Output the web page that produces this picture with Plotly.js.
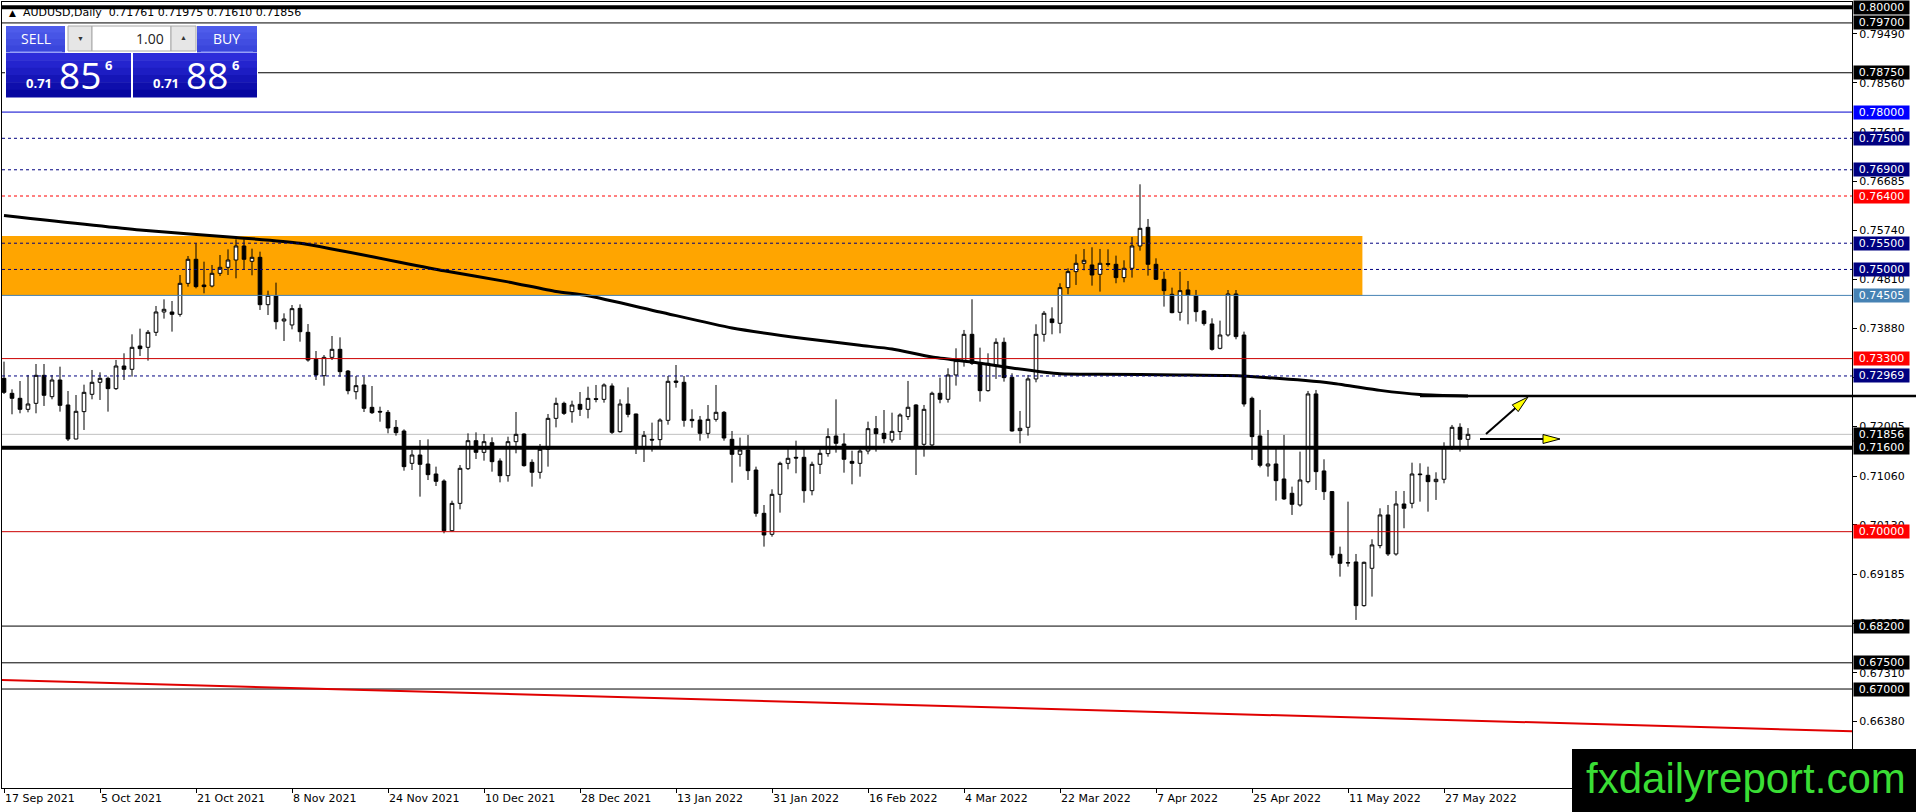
<!DOCTYPE html>
<html><head><meta charset="utf-8">
<script src="https://cdn.plot.ly/plotly-3.0.1.min.js"></script>
<style>html,body{margin:0;padding:0;background:#fff;overflow:hidden}#chart{width:1916px;height:812px}</style>
</head><body><div id="chart"></div>
<script>
// ---------- data ----------
const tickLabels = ['17 Sep 2021','5 Oct 2021','21 Oct 2021','8 Nov 2021','24 Nov 2021','10 Dec 2021','28 Dec 2021','13 Jan 2022','31 Jan 2022','16 Feb 2022','4 Mar 2022','22 Mar 2022','7 Apr 2022','25 Apr 2022','11 May 2022','27 May 2022'];
const tickBars = [0,12,24,36,48,60,72,84,96,108,120,132,144,156,168,180];

const barOpen = [
0.72924,0.72638,0.72543,0.72333,0.72447,0.72981,0.72574,0.72892,0.72416,0.71767,
0.72289,0.72619,0.72848,0.72924,0.72727,0.73159,0.73096,0.73540,0.73515,0.73801,
0.74189,0.74189,0.74144,0.74735,0.75193,0.74703,0.74684,0.74926,0.75040,0.75180,
0.75447,0.75155,0.75231,0.74328,0.74494,0.74017,0.73941,0.74258,0.73801,0.73286,
0.72974,0.73324,0.73477,0.73063,0.72669,0.72797,0.72371,0.72294,0.72275,0.71989,
0.71919,0.71303,0.71462,0.71290,0.71100,0.70966,0.70019,0.70540,0.71201,0.71735,
0.71513,0.71697,0.71348,0.71068,0.71716,0.71862,0.71322,0.71132,0.71570,0.72161,
0.72447,0.72288,0.72428,0.72333,0.72536,0.72523,0.72778,0.71907,0.72434,0.72244,
0.71621,0.71761,0.71755,0.72123,0.72873,0.72848,0.72142,0.72129,0.71875,0.72142,
0.72276,0.71761,0.71475,0.71557,0.71176,0.70350,0.69950,0.70712,0.71303,0.71418,
0.71418,0.70782,0.71284,0.71488,0.71824,0.71672,0.71341,0.71303,0.71538,0.71964,
0.71875,0.71748,0.71908,0.72194,0.72416,0.71666,0.71653,0.72639,0.72524,0.72988,
0.73261,0.73763,0.73210,0.72689,0.73160,0.73611,0.72944,0.71927,0.71990,0.72912,
0.73763,0.74056,0.73973,0.74653,0.74958,0.75117,0.75085,0.74907,0.75111,0.75098,
0.74844,0.75022,0.75447,0.75803,0.75098,0.74812,0.74526,0.74183,0.74609,0.74500,
0.74208,0.73960,0.73496,0.73750,0.74532,0.73750,0.72543,0.71825,0.71253,0.71291,
0.71005,0.70732,0.70509,0.70954,0.72626,0.71158,0.70764,0.69569,0.69410,0.69423,
0.68590,0.69302,0.69734,0.70319,0.69575,0.70528,0.70541,0.71100,0.71075,0.70954,
0.70999,0.71602,0.71990,0.71761];
const barHigh = [
0.73242,0.72714,0.72873,0.72988,0.73197,0.73197,0.72988,0.73146,0.72682,0.72606,
0.72803,0.73083,0.73038,0.72956,0.73274,0.73401,0.73763,0.73871,0.73845,0.74303,
0.74430,0.74398,0.74894,0.75256,0.75498,0.75148,0.75085,0.75275,0.75383,0.75574,
0.75574,0.75396,0.75339,0.74595,0.74748,0.74163,0.74322,0.74334,0.73959,0.73445,
0.73368,0.73731,0.73705,0.73082,0.72968,0.72955,0.72777,0.72383,0.72320,0.72129,
0.71951,0.71557,0.71748,0.71761,0.71240,0.70998,0.70591,0.71271,0.71875,0.71894,
0.71862,0.71799,0.71398,0.71811,0.72282,0.71875,0.71379,0.71672,0.72244,0.72555,
0.72479,0.72498,0.72663,0.72765,0.72797,0.72828,0.72828,0.72523,0.72752,0.72250,
0.71920,0.72079,0.72161,0.72968,0.73178,0.72968,0.72333,0.72206,0.72415,0.72797,
0.72301,0.71920,0.71793,0.71843,0.71240,0.70509,0.70808,0.71335,0.71583,0.71735,
0.71577,0.71335,0.71577,0.71971,0.72523,0.71875,0.71545,0.71634,0.72098,0.72206,
0.72320,0.72269,0.72257,0.72874,0.72430,0.72416,0.72670,0.72937,0.73115,0.73496,
0.73846,0.74431,0.73509,0.73401,0.73687,0.73700,0.73020,0.72302,0.72988,0.73954,
0.74208,0.74278,0.74736,0.75022,0.75289,0.75390,0.75422,0.75390,0.75384,0.75263,
0.75174,0.75619,0.76623,0.75962,0.75212,0.74958,0.74653,0.74958,0.74780,0.74609,
0.74227,0.74068,0.74024,0.74608,0.74608,0.73814,0.72575,0.72321,0.71939,0.71590,
0.71844,0.70859,0.71526,0.72683,0.72702,0.71380,0.70776,0.69715,0.70573,0.69575,
0.69429,0.69855,0.70446,0.70509,0.70776,0.70776,0.71316,0.71304,0.71240,0.71132,
0.71704,0.72035,0.72066,0.71975];
const barLow = [
0.72625,0.72238,0.72257,0.72276,0.72257,0.72397,0.72524,0.72289,0.71729,0.71761,
0.71939,0.72524,0.72511,0.72289,0.72702,0.72892,0.72956,0.73350,0.73261,0.73731,
0.74062,0.73814,0.74100,0.74672,0.74640,0.74545,0.74659,0.74875,0.74894,0.74831,
0.75002,0.74888,0.74227,0.74131,0.73858,0.73636,0.73858,0.73623,0.73241,0.72892,
0.72784,0.73273,0.72955,0.72619,0.72523,0.72282,0.72244,0.72097,0.71875,0.71831,
0.71163,0.71176,0.70668,0.70985,0.70871,0.69969,0.70005,0.70426,0.71176,0.71386,
0.71354,0.71144,0.70941,0.70954,0.71494,0.71240,0.70858,0.71011,0.71240,0.71989,
0.72225,0.72078,0.72206,0.72161,0.72466,0.72460,0.71863,0.71888,0.72180,0.71481,
0.71329,0.71526,0.71621,0.72040,0.72746,0.72002,0.71983,0.71735,0.71780,0.72098,
0.71735,0.70935,0.71240,0.70986,0.70286,0.69715,0.69905,0.70363,0.71189,0.71113,
0.70553,0.70693,0.71100,0.71430,0.71507,0.71125,0.70903,0.71049,0.71475,0.71526,
0.71685,0.71697,0.71749,0.72130,0.71081,0.71431,0.71620,0.72448,0.72461,0.72785,
0.73147,0.73179,0.72480,0.72670,0.72912,0.72861,0.71908,0.71685,0.71831,0.72848,
0.73623,0.73763,0.73782,0.74526,0.74704,0.74983,0.74691,0.74577,0.75053,0.74736,
0.74755,0.74844,0.75358,0.74882,0.74799,0.74291,0.74164,0.74024,0.73954,0.74005,
0.73929,0.73452,0.73477,0.73719,0.73668,0.72384,0.71367,0.71227,0.71050,0.70592,
0.70605,0.70319,0.70478,0.70922,0.70795,0.70605,0.69493,0.69143,0.69334,0.68317,
0.68571,0.68762,0.69683,0.69537,0.69543,0.70065,0.70446,0.70573,0.70382,0.70605,
0.70922,0.71558,0.71526,0.71610];
const barClose = [
0.72657,0.72543,0.72333,0.72435,0.72981,0.72600,0.72892,0.72409,0.71767,0.72295,
0.72657,0.72848,0.72924,0.72727,0.73159,0.73096,0.73515,0.73490,0.73801,0.74189,
0.74240,0.74144,0.74735,0.75193,0.74672,0.74672,0.74926,0.75040,0.75180,0.75447,
0.75193,0.75231,0.74328,0.74506,0.74004,0.74055,0.74252,0.73813,0.73273,0.72987,
0.73324,0.73477,0.73051,0.72688,0.72784,0.72352,0.72269,0.72282,0.71977,0.71888,
0.71240,0.71462,0.71284,0.71087,0.70960,0.70019,0.70540,0.71208,0.71735,0.71513,
0.71716,0.71335,0.71068,0.71716,0.71856,0.71259,0.71132,0.71570,0.72161,0.72447,
0.72256,0.72415,0.72333,0.72542,0.72523,0.72797,0.71894,0.72434,0.72237,0.71621,
0.71837,0.71748,0.72129,0.72867,0.72848,0.72123,0.72117,0.71875,0.72142,0.72276,
0.71786,0.71475,0.71557,0.71163,0.70350,0.69937,0.70712,0.71303,0.71399,0.71405,
0.70782,0.71284,0.71494,0.71812,0.71685,0.71380,0.71303,0.71538,0.71964,0.71869,
0.71774,0.71913,0.72225,0.72372,0.71622,0.72333,0.72639,0.72524,0.72988,0.73261,
0.73763,0.73210,0.72689,0.73210,0.73611,0.72937,0.71920,0.71971,0.72912,0.73763,
0.74164,0.73986,0.74653,0.74958,0.75117,0.75174,0.74894,0.75117,0.75098,0.74844,
0.75022,0.75447,0.75784,0.75098,0.74812,0.74596,0.74176,0.74596,0.74513,0.74195,
0.73967,0.73477,0.73750,0.74532,0.73719,0.72435,0.71812,0.71266,0.71291,0.70973,
0.70624,0.70522,0.70986,0.72626,0.71145,0.70764,0.69556,0.69397,0.69405,0.68590,
0.69416,0.69747,0.70319,0.69575,0.70528,0.70446,0.71100,0.71088,0.70954,0.70999,
0.71602,0.71990,0.71761,0.71856];

// 200-day moving average, read at selected bars
const maBars = [0,17,29,37,55,63,69,73,82,91,100,107,111,116,121,126,132,137,147,153,158,166,172,177,183];
const maValues = [0.76029,0.75752,0.75609,0.75499,0.74974,0.74763,0.74580,0.74498,0.74189,0.73884,0.73684,0.73554,0.73483,0.73331,0.73235,0.73121,0.73010,0.73001,0.72988,0.72976,0.72936,0.72831,0.72694,0.72616,0.72587];

// horizontal levels and their label kinds
const levelValues = [0.80000,0.79700,0.78750,0.78000,0.77500,0.76900,0.76400,0.75500,0.75000,0.74505,0.73300,0.72969,0.71856,0.71600,0.70000,0.68200,0.67500,0.67000];
const levelKinds  = ['thick','black','black','blue','navyDash','navyDash','redDash','navyDash','navyDash','steel','red','navyDash','bid','thick','red','black','black','black'];

const yTickValues = [0.79490,0.78560,0.77615,0.76685,0.75740,0.74810,0.73880,0.72940,0.72005,0.71060,0.70130,0.69185,0.68255,0.67310,0.66380];

const zoneLow = 0.74505, zoneHigh = 0.75638, zoneEndBar = 169.8;
const resistanceValue = 0.72587, resistanceStartBar = 177;
const trendStart = [-0.25, 0.67173], trendEnd = [231, 0.66196];
// arrows: [tailBar, tailValue, tipBar, tipValue]
const arrowList = [[184.5,0.71767,194.5,0.71767],[185.25,0.71863,190.5,0.72568]];
const headerText = 'AUDUSD,Daily  0.71761 0.71975 0.71610 0.71856';

// ---------- geometry helpers ----------
const W=1916,H=812,L=2,T=2,PW=1850,PH=786;
const X0=-0.25,X1=231,Y0=0.65113,Y1=0.80099;
const pxX = px => (px-L)/PW;
const pxY = py => 1-(py-T)/PH;
const barToPx = b => L+(b-X0)/(X1-X0)*PW;
const valToPy = v => T+(Y1-v)/(Y1-Y0)*PH;
const pxToBar = px => X0+(px-L)/PW*(X1-X0);
const pyToVal = py => Y1-(py-T)/PH*(Y1-Y0);

const styles = {
  thick:{c:'#000000',w:4,dash:'solid',bg:'#000000'},
  black:{c:'#000000',w:1,dash:'solid',bg:'#000000'},
  blue:{c:'#0000CD',w:1,dash:'solid',bg:'#0000FF'},
  navyDash:{c:'#000080',w:1,dash:'3px,3px',bg:'#000080'},
  redDash:{c:'#FF0000',w:1,dash:'3px,3px',bg:'#FF0000'},
  steel:{c:'#4682B4',w:1,dash:'solid',bg:'#4682B4'},
  red:{c:'#CC0000',w:1,dash:'solid',bg:'#FF0000'},
  bid:{c:'#C0C0C0',w:1,dash:'solid',bg:'#000000'}
};

const shapes = [];
const annotations = [];

// orange zone
shapes.push({type:'rect',xref:'x',yref:'y',x0:X0,x1:zoneEndBar,y0:zoneLow,y1:zoneHigh,fillcolor:'#FFA500',line:{width:0},layer:'below'});

// horizontal levels
levelValues.forEach((v,i)=>{
  const s = styles[levelKinds[i]];
  shapes.push({type:'line',xref:'paper',yref:'y',x0:0,x1:1,y0:v,y1:v,
    line:{color:s.c,width:s.w,dash:s.dash},layer:levelKinds[i]==='bid'?'below':'above'});
  annotations.push({xref:'paper',yref:'y',x:pxX(1853),y:v,xanchor:'left',yanchor:'middle',
    text:v.toFixed(5),showarrow:false,bgcolor:s.bg,width:53,height:11,borderpad:1,align:'center',
    font:{family:'DejaVu Sans',size:11,color:'#ffffff'}});
});

// resistance horizontal line (extends past the price scale)
shapes.push({type:'line',xref:'paper',yref:'y',x0:pxX(barToPx(resistanceStartBar)),x1:pxX(W),y0:resistanceValue,y1:resistanceValue,
  line:{color:'#000000',width:2.5},layer:'above'});

// red trend line
shapes.push({type:'line',xref:'x',yref:'y',x0:trendStart[0],y0:trendStart[1],x1:trendEnd[0],y1:trendEnd[1],
  line:{color:'#E00000',width:2},layer:'above'});

// arrows
arrowList.forEach(a=>{
  const tx=barToPx(a[0]),ty=valToPy(a[1]),hx=barToPx(a[2]),hy=valToPy(a[3]);
  const dx=hx-tx,dy=hy-ty,len=Math.hypot(dx,dy),ux=dx/len,uy=dy/len,nx=-uy,ny=ux;
  const hl=17,hw=4.5;
  const bx=hx-ux*hl,by=hy-uy*hl;
  shapes.push({type:'line',xref:'x',yref:'y',x0:a[0],y0:a[1],x1:pxToBar(bx),y1:pyToVal(by),line:{color:'#000',width:2},layer:'above'});
  const p=[[hx,hy],[bx+nx*hw,by+ny*hw],[bx-nx*hw,by-ny*hw]].map(q=>pxToBar(q[0])+','+pyToVal(q[1]));
  shapes.push({type:'path',xref:'x',yref:'y',path:'M'+p[0]+'L'+p[1]+'L'+p[2]+'Z',fillcolor:'#FFFF00',line:{color:'#000',width:1},layer:'above'});
});

// ---------- trading panel ----------
function prect(x0,y0,x1,y1,fill,lineColor){
  shapes.push({type:'rect',xref:'paper',yref:'paper',x0:pxX(x0),x1:pxX(x1),y0:pxY(y1),y1:pxY(y0),
    fillcolor:fill,line:lineColor?{color:lineColor,width:1}:{width:0},layer:'above'});
}
function gradRect(x0,y0,x1,y1,c0,c1,n){
  for(let k=0;k<n;k++){
    const t=k/(n-1);
    const c=c0.map((v,j)=>Math.round(v+(c1[j]-v)*t));
    prect(x0,y0+(y1-y0)*k/n,x1,y0+(y1-y0)*(k+1)/n+0.5,'rgb('+c.join(',')+')');
  }
}
function ptext(x,y,text,size,color,opts){
  annotations.push(Object.assign({xref:'paper',yref:'paper',x:pxX(x),y:pxY(y),text:text,showarrow:false,
    xanchor:'center',yanchor:'middle',font:{family:'Open Sans',size:size,color:color}},opts||{}));
}
prect(5,25,258,97,'#ffffff');
gradRect(6,26,65,52,[78,92,235],[58,70,220],4);
gradRect(197,26,257,52,[78,92,235],[58,70,220],4);
prect(68,26,92,51,'#e6e6e6','#a8a8a8');
prect(92,26,171,51,'#ffffff','#a8a8a8');
prect(171,26,196,51,'#e6e6e6','#a8a8a8');
gradRect(6,53,131,97,[44,44,218],[6,6,160],6);
gradRect(133,53,257,97,[44,44,218],[6,6,160],6);
shapes.push({type:'line',xref:'paper',yref:'paper',x0:pxX(10),x1:pxX(62),y0:pxY(52),y1:pxY(52),line:{color:'#8f9bff',width:1},layer:'above'});
shapes.push({type:'line',xref:'paper',yref:'paper',x0:pxX(201),x1:pxX(253),y0:pxY(52),y1:pxY(52),line:{color:'#8f9bff',width:1},layer:'above'});
ptext(35.5,39,'SELL',14,'#ffffff');
ptext(226,39,'BUY',14,'#ffffff');
ptext(80,39,'▼',7,'#333333');
ptext(183,38,'▲',7,'#333333');
ptext(166,39,'1.00',14,'#222222',{xanchor:'right'});
ptext(24,83,'<b>0.71</b>',13,'#ffffff',{xanchor:'left'});
ptext(80,74,'85',37,'#ffffff');
ptext(109,65,'<b>6</b>',13,'#ffffff');
ptext(151,83,'<b>0.71</b>',13,'#ffffff',{xanchor:'left'});
ptext(207,74,'88',37,'#ffffff');
ptext(236,65,'<b>6</b>',13,'#ffffff');

// header
ptext(7,12.5,'▲',9,'#000000',{xanchor:'left',font:{family:'DejaVu Sans',size:9,color:'#000'}});
ptext(21,12.5,headerText,11,'#000000',{xanchor:'left',font:{family:'DejaVu Sans',size:11,color:'#000'}});

// watermark
shapes.push({type:'rect',xref:'paper',yref:'paper',x0:pxX(1572),x1:pxX(W),y0:pxY(H),y1:pxY(749),fillcolor:'#000000',line:{width:0},layer:'above'});
ptext(1746,778,'fxdailyreport.com',42,'#3ade35',{font:{family:'Liberation Sans',size:42,color:'#3ade35'}});

// ---------- traces ----------
const barIndex = barOpen.map((_,i)=>i);
const traces = [
  {type:'candlestick',x:barIndex,open:barOpen,high:barHigh,low:barLow,close:barClose,
   increasing:{line:{color:'#000000',width:1},fillcolor:'#ffffff'},
   decreasing:{line:{color:'#000000',width:1},fillcolor:'#000000'},
   whiskerwidth:0,hoverinfo:'skip',showlegend:false},
  {type:'scatter',mode:'lines',x:maBars,y:maValues,line:{color:'#000000',width:3,shape:'spline',smoothing:0.6},hoverinfo:'skip',showlegend:false}
];

const layout = {
  width:W,height:H,margin:{l:L,r:W-L-PW,t:T,b:H-T-PH,pad:0},
  paper_bgcolor:'#ffffff',plot_bgcolor:'#ffffff',showlegend:false,boxgap:0.35,
  font:{family:'DejaVu Sans',size:11,color:'#000'},
  xaxis:{type:'linear',range:[X0,X1],tickvals:tickBars,ticktext:tickLabels,ticks:'outside',ticklen:4,tickcolor:'#000',
    ticklabelposition:'outside right',showgrid:false,zeroline:false,showline:true,mirror:true,linecolor:'#000',linewidth:1,
    rangeslider:{visible:false},tickfont:{family:'DejaVu Sans',size:11,color:'#000'},fixedrange:true},
  yaxis:{side:'right',range:[Y0,Y1],tickvals:yTickValues,tickformat:'.5f',ticks:'outside',ticklen:4,tickcolor:'#000',
    showgrid:false,zeroline:false,showline:true,mirror:true,linecolor:'#000',linewidth:1,
    tickfont:{family:'DejaVu Sans',size:11,color:'#000'},fixedrange:true},
  shapes:shapes,annotations:annotations
};
Plotly.newPlot('chart',traces,layout,{staticPlot:true,displayModeBar:false});
</script>
</body></html>
